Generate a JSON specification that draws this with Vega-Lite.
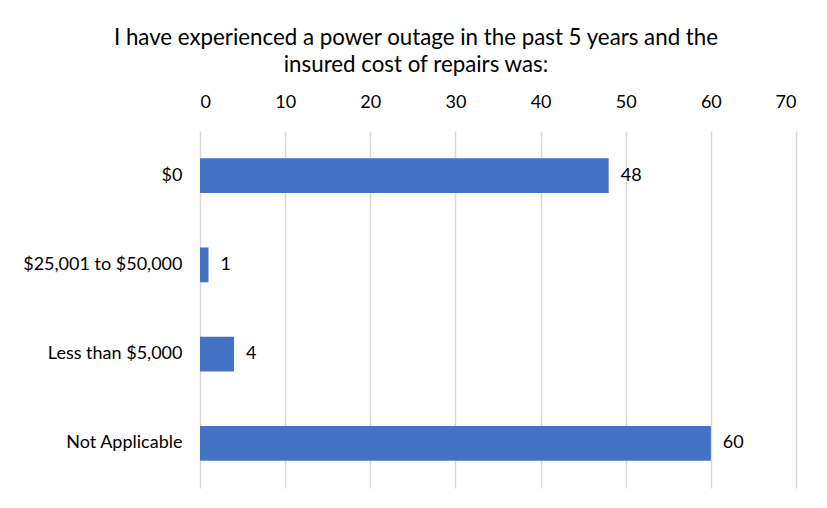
{
  "$schema": "https://vega.github.io/schema/vega-lite/v6.json",
  "width": 596,
  "height": 357,
  "autosize": {"type": "none"},
  "padding": {"left": 200, "top": 131, "right": 31, "bottom": 20},
  "background": "white",
  "title": {
    "text": ["I have experienced a power outage in the past 5 years and the", "insured cost of repairs was:"],
    "anchor": "middle",
    "dx": -82,
    "offset": 17,
    "fontSize": 22.3,
    "font": "Lato",
    "fontWeight": "normal",
    "color": "#000000",
    "lineHeight": 27
  },
  "data": {
    "values": [
      {"category": "$0", "value": 48},
      {"category": "$25,001 to $50,000", "value": 1},
      {"category": "Less than $5,000", "value": 4},
      {"category": "Not Applicable", "value": 60}
    ]
  },
  "encoding": {
    "y": {
      "field": "category",
      "type": "nominal",
      "sort": null,
      "scale": {"paddingInner": 0.61, "paddingOuter": 0.305},
      "axis": {"title": null, "domain": false, "ticks": false, "labelPadding": 18, "labelFontSize": 18, "labelFont": "Lato", "labelColor": "#000000"}
    },
    "x": {
      "field": "value",
      "type": "quantitative",
      "scale": {"domain": [0, 70], "nice": false},
      "axis": {"orient": "top", "title": null, "domain": false, "ticks": false, "values": [0,10,20,30,40,50,60,70], "labelPadding": 20, "labelFontSize": 18, "labelFont": "Lato", "labelColor": "#000000", "gridColor": "#d9d9d9", "gridWidth": 1.5}
    }
  },
  "layer": [
    {"mark": {"type": "bar", "color": "#4472c4"}},
    {"mark": {"type": "text", "align": "left", "dx": 12, "fontSize": 18, "font": "Lato", "color": "#000000"}, "encoding": {"text": {"field": "value", "type": "quantitative"}}}
  ],
  "config": {"view": {"stroke": null}}
}
